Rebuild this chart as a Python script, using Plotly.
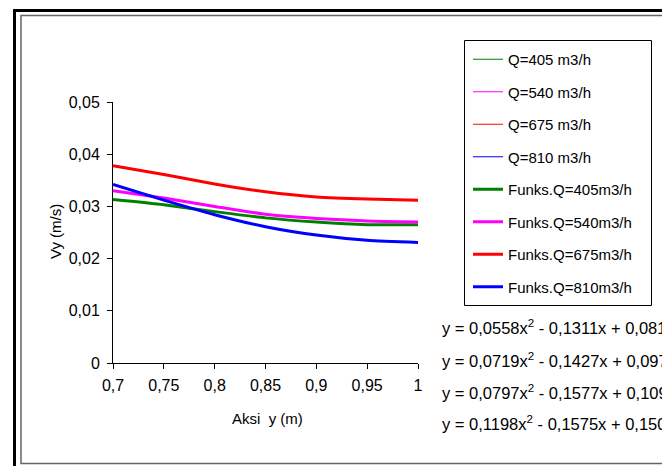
import plotly.graph_objects as go

# ---- data ----
x_vals = [0.7, 0.75, 0.8, 0.85, 0.9, 0.95, 1.0]
q405 = [0.0313, 0.0303, 0.0290, 0.0278, 0.0270, 0.0265, 0.0265]
q540 = [0.0330, 0.0316, 0.0300, 0.0285, 0.0277, 0.0272, 0.0270]
q675 = [0.0378, 0.0361, 0.0343, 0.0328, 0.0318, 0.0314, 0.0312]
q810 = [0.0342, 0.0312, 0.0284, 0.0261, 0.0245, 0.0235, 0.0231]

data_names = ["Q=405 m3/h", "Q=540 m3/h", "Q=675 m3/h", "Q=810 m3/h"]
func_names = ["Funks.Q=405m3/h", "Funks.Q=540m3/h", "Funks.Q=675m3/h", "Funks.Q=810m3/h"]
series = [q405, q540, q675, q810]
colors = ["#008000", "#FF00FF", "#FF0000", "#0000FF"]

equations = [
    "y = 0,0558x<sup>2</sup> - 0,1311x + 0,0816",
    "y = 0,0719x<sup>2</sup> - 0,1427x + 0,0976",
    "y = 0,0797x<sup>2</sup> - 0,1577x + 0,1092",
    "y = 0,1198x<sup>2</sup> - 0,1575x + 0,1508",
]

x_ticks = [0.7, 0.75, 0.8, 0.85, 0.9, 0.95, 1.0]
y_ticks = [0, 0.01, 0.02, 0.03, 0.04, 0.05]

# ---- geometry (pixels) ----
W, H = 662, 466
PL, PR, PT, PB = 113, 418, 102, 363
FONT = "Liberation Sans, Arial, sans-serif"
FS = 16


def px(xp):
    return (xp - PL) / (PR - PL)


def py(yp):
    return (PB - yp) / (PB - PT)


fig = go.Figure()
for name, ys, c in zip(data_names, series, colors):
    fig.add_trace(go.Scatter(x=x_vals, y=ys, name=name, mode="lines",
                             line=dict(color=c, width=1, shape="spline", smoothing=0.6),
                             legendgroup=name))
for name, ys, c in zip(func_names, series, colors):
    fig.add_trace(go.Scatter(x=x_vals, y=ys, name=name, mode="lines",
                             line=dict(color=c, width=3, shape="spline", smoothing=0.6),
                             legendgroup=name))

annotations = []
for i, eq in enumerate(equations):
    annotations.append(dict(text=eq, xref="paper", yref="paper",
                            x=px(440), y=py([327, 360, 392, 423][i]),
                            xanchor="left", yanchor="middle", showarrow=False,
                            font=dict(size=FS + 0.5, color="black", family=FONT)))
annotations.append(dict(text="Vy (m/s)", xref="paper", yref="paper",
                        x=px(55), y=py(232), textangle=-90, showarrow=False,
                        xanchor="center", yanchor="middle",
                        font=dict(size=FS - 1, color="black", family=FONT)))
annotations.append(dict(text="Aksi  y (m)", xref="paper", yref="paper",
                        x=px(267), y=py(418), showarrow=False,
                        xanchor="center", yanchor="middle",
                        font=dict(size=FS - 1, color="black", family=FONT)))

shapes = [
    dict(type="rect", xref="paper", yref="paper",
         x0=px(14.5), y0=py(10.5), x1=px(720), y1=py(520),
         line=dict(color="black", width=3)),
    dict(type="rect", xref="paper", yref="paper",
         x0=px(21), y0=py(15.5), x1=px(720), y1=py(463.5),
         line=dict(color="#666666", width=1.5)),
    dict(type="rect", xref="paper", yref="paper",
         x0=px(464.5), y0=py(40.5), x1=px(651.5), y1=py(305.5),
         line=dict(color="black", width=1)),
]

fig.update_layout(
    width=W, height=H, autosize=False,
    margin=dict(l=PL, r=W - PR, t=PT, b=H - PB, pad=0),
    paper_bgcolor="white", plot_bgcolor="white",
    separators=", ",
    font=dict(family=FONT, size=FS, color="black"),
    showlegend=True,
    legend=dict(x=px(468), y=py(43), xanchor="left", yanchor="top",
                bgcolor="rgba(0,0,0,0)", borderwidth=0, maxheight=420,
                font=dict(size=FS - 1, family=FONT, color="black"),
                tracegroupgap=10, traceorder="grouped"),
    xaxis=dict(range=[0.7, 1.0], tickvals=x_ticks, showgrid=False, zeroline=False,
               showline=True, linecolor="black", linewidth=1,
               ticks="outside", ticklen=5, tickcolor="black", ticklabelstandoff=3,
               tickfont=dict(size=FS, family=FONT, color="black")),
    yaxis=dict(range=[0, 0.05], tickvals=y_ticks, showgrid=False, zeroline=False,
               showline=True, linecolor="black", linewidth=1,
               ticks="outside", ticklen=5, tickcolor="black", ticklabelstandoff=4,
               tickfont=dict(size=FS, family=FONT, color="black")),
    annotations=annotations,
    shapes=shapes,
)

fig.write_html("out.html")
